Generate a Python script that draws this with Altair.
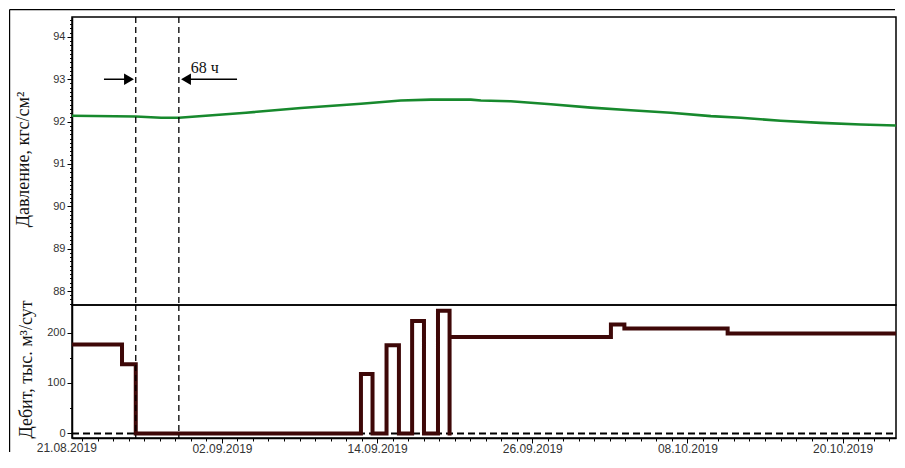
import altair as alt
import pandas as pd
from datetime import datetime, timedelta

# ---------------- data ----------------
p_time = ["2019-08-21T09:30", "2019-08-26T08:00", "2019-08-28T07:00", "2019-08-29T16:00",
          "2019-09-03T20:40", "2019-09-08T02:40", "2019-09-12T18:00", "2019-09-15T20:00",
          "2019-09-18T04:00", "2019-09-21T06:00", "2019-09-22T00:45", "2019-09-24T08:00",
          "2019-09-27T10:30", "2019-09-30T13:00", "2019-10-03T15:00", "2019-10-06T17:00",
          "2019-10-09T19:30", "2019-10-12T03:00", "2019-10-15T05:00", "2019-10-18T07:40",
          "2019-10-21T10:00", "2019-10-24T21:40"]
p_value = [92.14, 92.12, 92.09, 92.09, 92.21, 92.32, 92.42, 92.50, 92.52, 92.52, 92.50, 92.48,
           92.41, 92.33, 92.27, 92.21, 92.13, 92.09, 92.02, 91.97, 91.93, 91.90]

q_time = ["2019-08-21T09:30", "2019-08-25T06:30", "2019-08-26T08:00", "2019-09-12T18:00",
          "2019-09-13T15:30", "2019-09-14T17:30", "2019-09-15T16:30", "2019-09-16T17:00",
          "2019-09-17T15:00", "2019-09-18T17:00", "2019-09-19T14:30", "2019-09-19T14:31",
          "2019-10-02T02:00", "2019-10-03T03:00", "2019-10-11T02:40", "2019-10-24T21:40"]
q_value = [176, 137, 0, 118, 0, 175, 0, 223, 0, 243, 0, 191, 216, 208, 198, 198]

marker_times = ["2019-08-26T08:00", "2019-08-29T16:00"]

arrow_start = ["2019-08-23T21:00", "2019-09-03T04:00"]
arrow_end = ["2019-08-25T19:30", "2019-08-30T05:15"]
arrow_level = [93.0, 93.0]
arrow_shape = ["triangle-right", "triangle-left"]

note_time = ["2019-08-30T14:00"]
note_level = [93.27]
note_text = ["68 ч"]

first_tick_time = ["2019-08-21T00:00"]
first_tick_label = ["21.08.2019"]

title_top = "Давление, кгс/см²"
title_bottom = "Дебит, тыс. м³/сут"

# ---------------- styling ----------------
W, TOP_H, BOT_H = 824, 288, 133
GREEN = "#17892d"
MAROON = "#3e0808"
LABEL_FONT = "Liberation Sans"
SERIF = "Liberation Serif"
LABEL_COLOR = "#333333"


def dt(d):
    return alt.DateTime(year=d.year, month=d.month, date=d.day, hours=d.hour, minutes=d.minute)


x_dom = [dt(datetime(2019, 8, 21, 9, 40)), dt(datetime(2019, 10, 24, 3, 10))]
x_scale = alt.Scale(domain=x_dom)

base = datetime(2019, 8, 21)
x_ticks = [dt(base + timedelta(hours=28.8 * k)) for k in range(1, 54)]
major_test = ("abs((datum.value - datetime(2019,7,21)) / 864e5 / 12 - "
              "round((datum.value - datetime(2019,7,21)) / 864e5 / 12)) < 0.01")

top_ticks = [round(87.7 + 0.1 * i, 1) for i in range(0, 68)]
bot_ticks = [0, 50, 100, 150, 200]

p_df = pd.DataFrame({"t": p_time, "v": p_value})
q_df = pd.DataFrame({"t": q_time, "v": q_value})
m_df = pd.DataFrame({"t": marker_times})
a_df = pd.DataFrame({"t1": arrow_start, "t2": arrow_end, "v": arrow_level, "shape": arrow_shape})
n_df = pd.DataFrame({"t": note_time, "v": note_level, "text": note_text})
f_df = pd.DataFrame({"t": first_tick_time, "label": first_tick_label})
one = alt.Data(values=[{}])

top_y_axis = alt.Axis(
    values=top_ticks, tickCount=1000,
    labelExpr="abs(datum.value - round(datum.value)) < 0.001 ? format(datum.value, 'd') : ''",
    tickSize={"condition": {"test": "abs(datum.value - round(datum.value)) < 0.001", "value": 5}, "value": 2.5},
    title=title_top, titleFont=SERIF, titleFontSize=18, titleFontWeight="normal", titleColor="#111",
    titleAngle=-90, titleX=-49, titleY=142, titleAlign="center", titleBaseline="middle",
    labelPadding=2, labelOverlap=False, grid=False,
)

top_y = alt.Scale(domain=[87.67, 94.47], nice=False, zero=False)

green = alt.Chart(p_df).mark_line(color=GREEN, strokeWidth=2.6, clip=True).encode(
    x=alt.X("t:T", scale=x_scale, axis=None),
    y=alt.Y("v:Q", scale=top_y, axis=top_y_axis),
)

vl_top = alt.Chart(m_df).mark_rule(color="black", strokeWidth=1.3, strokeDash=[6, 4]).encode(
    x=alt.X("t:T", scale=x_scale, axis=None), y=alt.value(0), y2=alt.value(TOP_H)
)

arrow_lines = alt.Chart(a_df).mark_rule(color="black", strokeWidth=1.5).encode(
    x=alt.X("t1:T", scale=x_scale, axis=None), x2="t2:T", y=alt.Y("v:Q", scale=top_y)
)
arrow_heads = alt.Chart(a_df).mark_point(filled=True, color="black", opacity=1, size=130).encode(
    x=alt.X("t2:T", scale=x_scale, axis=None), y=alt.Y("v:Q", scale=top_y),
    shape=alt.Shape("shape:N", scale=None, legend=None),
)
note = alt.Chart(n_df).mark_text(font=SERIF, fontSize=16, align="left", baseline="middle", color="#111").encode(
    x=alt.X("t:T", scale=x_scale, axis=None), y=alt.Y("v:Q", scale=top_y), text="text:N"
)

top = alt.layer(green, vl_top, arrow_lines, arrow_heads, note).properties(
    width=W, height=TOP_H
)

# ---------------- bottom panel ----------------
bot_y = alt.Scale(domain=[-9, 254.5], nice=False, zero=False)
bot_y_axis = alt.Axis(
    values=bot_ticks, tickCount=1000,
    labelExpr="datum.value % 100 === 0 ? format(datum.value, 'd') : ''",
    tickSize={"condition": {"test": "datum.value % 100 === 0", "value": 5}, "value": 2.5},
    title=title_bottom, titleFont=SERIF, titleFontSize=18, titleFontWeight="normal", titleColor="#111",
    titleAngle=-90, titleX=-46, titleY=64, titleAlign="center", titleBaseline="middle",
    labelPadding=2, labelOverlap=False, grid=False,
)
x_axis = alt.Axis(
    values=x_ticks, tickCount=1000,
    labelExpr=major_test + " ? timeFormat(datum.value, '%d.%m.%Y') : ''",
    tickSize={"condition": {"test": major_test, "value": 5}, "value": 3},
    labelFont=LABEL_FONT, labelFontSize=12, labelColor=LABEL_COLOR, labelPadding=0,
    labelFlush=False, labelOverlap=False, title=None, grid=False,
)

zero_line = alt.Chart(alt.Data(values=[{"v": 0}])).mark_rule(
    color="black", strokeWidth=2, strokeDash=[7, 4]
).encode(y=alt.Y("v:Q", scale=bot_y), x=alt.value(0), x2=alt.value(W - 2))

step = alt.Chart(q_df).mark_line(
    interpolate="step-after", color=MAROON, strokeWidth=4, strokeJoin="miter", clip=True
).encode(
    x=alt.X("t:T", scale=x_scale, axis=x_axis),
    y=alt.Y("v:Q", scale=bot_y, axis=bot_y_axis),
)

vl_bot = alt.Chart(m_df).mark_rule(color="black", strokeWidth=1.3, strokeDash=[6, 4]).encode(
    x=alt.X("t:T", scale=x_scale), y=alt.value(0), y2=alt.value(BOT_H)
)

first_label = alt.Chart(f_df).mark_text(
    font=LABEL_FONT, fontSize=12, color=LABEL_COLOR, align="center", baseline="top"
).encode(x=alt.X("t:T", scale=x_scale), y=alt.value(BOT_H + 5), text="label:N")

# outer frame (drawn from the bottom panel, reaching up over the top panel)
frame_left = alt.Chart(one).mark_rule(color="black", strokeWidth=1.2).encode(
    x=alt.value(-62.4), y=alt.value(-TOP_H - 7.4), y2=alt.value(BOT_H + 14)
)
frame_top = alt.Chart(one).mark_rule(color="black", strokeWidth=1.2).encode(
    x=alt.value(-62.4), x2=alt.value(W - 1), y=alt.value(-TOP_H - 7.4)
)

bottom = alt.layer(zero_line, step, vl_bot, first_label, frame_left, frame_top).properties(
    width=W, height=BOT_H
)

chart = alt.vconcat(top, bottom, spacing=0, bounds="flush").properties(
    padding=0,
).configure_view(stroke="black", strokeWidth=1.5).configure_axis(
    domainColor="black", domainWidth=1.5, tickColor="black", tickWidth=1,
    labelFont=LABEL_FONT, labelFontSize=11, labelColor=LABEL_COLOR,
)

chart.save("out.html", embed_options={"renderer": "svg", "actions": False})
